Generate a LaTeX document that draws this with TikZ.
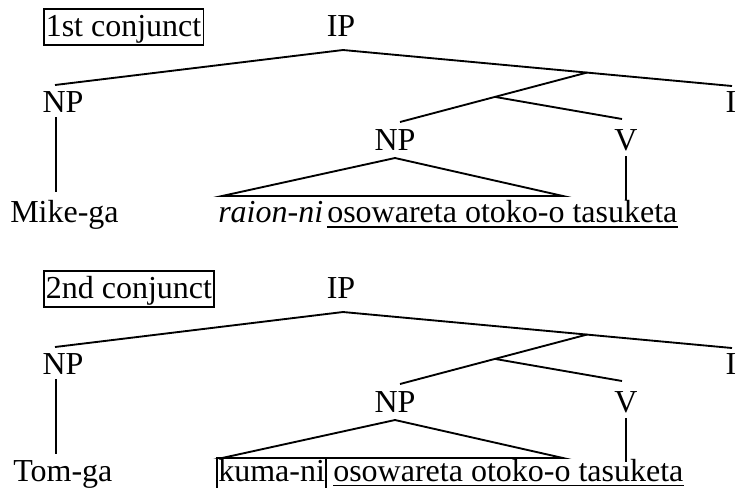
\documentclass[tikz,border=0pt]{standalone}
\usepackage{fontspec}
\setmainfont{Liberation Serif}
\usetikzlibrary{calc}

% One conjunct: a boxed tag, the IP skeleton and the object-NP triangle.
% #1 name suffix, #2 vertical offset, #3 tag text
\newcommand{\conjtree}[3]{%
  \begin{scope}[shift={(0,#2)}]
    \node[tag] (tag#1) at (43,36) {#3};
    \node[cat] (ip#1)  at (341,36)  {IP};
    \node[cat] (np#1)  at (63,112)  {NP};
    \node[cat] (i#1)   at (731,112) {I};
    \node[cat] (obj#1) at (395,150) {NP};
    \node[cat] (v#1)   at (626,150) {V};
    % attachment points of the branches
    \coordinate (ip#1-b)  at (343,50);
    \coordinate (np#1-t)  at (55,85);
    \coordinate (np#1-b)  at (56,117);
    \coordinate (np#1-e)  at (56,192);
    \coordinate (i#1-t)   at (732,86);
    \coordinate (obj#1-t) at (400,122);
    \coordinate (v#1-t)   at (622,119);
    \coordinate (v#1-b)   at (626,156);
    \coordinate (v#1-e)   at (626,200);
    \coordinate (tri#1-a) at (395,158);
    \coordinate (tri#1-l) at (222,196);
    \coordinate (tri#1-r) at (563,196);
    \coordinate (ibar#1) at ($(ip#1-b)!0.627!(i#1-t)$);
    \coordinate (vp#1)   at ($(ibar#1)!0.492!(obj#1-t)$);
    % branches
    \draw[branch] (np#1-t) -- (ip#1-b) -- (i#1-t);
    \draw[branch] (ibar#1) -- (obj#1-t);
    \draw[branch] (vp#1) -- (v#1-t);
    \draw[branch] (np#1-b) -- (np#1-e);
    \draw[branch] (v#1-b) -- (v#1-e);
    \draw[branch] (tri#1-l) -- (tri#1-a) -- (tri#1-r) -- cycle;
  \end{scope}}

\begin{document}
\begin{tikzpicture}[x=0.75pt, y=-0.75pt,
    every node/.style={font=\fontsize{24}{28}\selectfont, inner sep=0pt},
    cat/.style={anchor=base},
    leaf/.style={anchor=base west},
    tag/.style={draw, line width=1.2pt, anchor=base west, inner xsep=1.5pt,
                inner ysep=0pt, text height=20.25pt, text depth=6.75pt},
    branch/.style={line width=1.4pt},
    uline/.style={line width=1.4pt}]

  \useasboundingbox (0,0) rectangle (741,487);

  % first conjunct
  \conjtree{1}{0}{1st conjunct}
  \node[leaf] (subj1)   at (10,222)  {Mike-ga};
  \node[leaf] (raion)   at (218,222) {\textit{raion-ni}};
  \node[leaf] (pred1)   at (327,222) {osowareta otoko-o tasuketa};
  \draw[uline] ([yshift=-3.75pt]pred1.base west) -- ([yshift=-3.75pt]pred1.base east);

  % second conjunct
  \conjtree{2}{262}{2nd conjunct}
  \node[leaf] (subj2)   at (13,481)  {Tom-ga};
  \node[leaf] (kuma)    at (218,481) {kuma-ni};
  \node[leaf] (pred2)   at (333,481) {osowareta otoko-o tasuketa};
  \draw[uline] ([yshift=-3.4pt]pred2.base west) -- ([yshift=-3.4pt]pred2.base east);
  % open box round kuma-ni, hanging from the triangle base
  \coordinate (kbot) at (0,490);
  \draw[line width=1.2pt] ([xshift=-0.75pt]kuma.west |- kbot) -- ([xshift=-0.75pt]kuma.west |- tri2-l)
        -- ([xshift=0.75pt]kuma.east |- tri2-l) -- ([xshift=0.75pt]kuma.east |- kbot);
\end{tikzpicture}
\end{document}
